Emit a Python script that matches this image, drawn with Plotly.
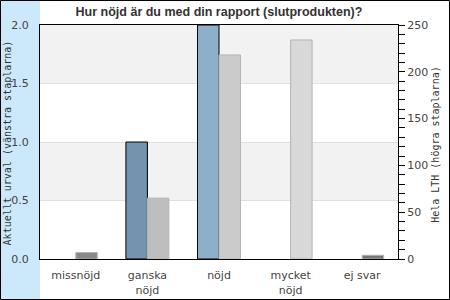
import plotly.graph_objects as go

categories = ["missnöjd", "ganska<br>nöjd", "nöjd", "mycket<br>nöjd", "ej svar"]
urval = [None, 1, 2, None, None]
lth = [7, 65, 218, 234, 4]
urval_colors = ["#5f7f9a", "#7393ae", "#8eafc9", "#a9c6de", "#5f7f9a"]
lth_colors = ["#888888", "#bebebe", "#cbcbcb", "#d8d8d8", "#777777"]
left_title = "Aktuellt urval (vänstra staplarna)"
right_title = "Hela LTH (högra staplarna)"

fig = go.Figure()
fig.add_trace(go.Bar(x=categories, y=urval, yaxis="y", width=0.3, offset=-0.3,
                     marker=dict(color=urval_colors, line=dict(color="black", width=1)),
                     showlegend=False))
fig.add_trace(go.Bar(x=categories, y=lth, yaxis="y2", width=0.3, offset=0,
                     marker=dict(color=lth_colors, line=dict(color="#b4b4b4", width=1)),
                     showlegend=False))

shapes = []
# blue strip on left
shapes.append(dict(type="rect", xref="paper", yref="paper", x0=-40/358, x1=0, y0=-41/234, y1=1+25/234,
                   fillcolor="#cce8fb", line=dict(width=0), layer="below"))
# bands
for lo, hi in [(0.5, 1.0), (1.5, 2.0)]:
    shapes.append(dict(type="rect", xref="paper", yref="y", x0=0, x1=1, y0=lo, y1=hi,
                       fillcolor="#f2f2f2", line=dict(width=0), layer="below"))
# outer border
shapes.append(dict(type="rect", xref="paper", yref="paper", x0=-39.5/358, x1=1+51.5/358,
                   y0=-40.5/234, y1=1+24.5/234, line=dict(color="black", width=1)))

tfont = dict(family="DejaVu Sans Mono", size=10, color="#333333")
annotations = [
    dict(text=left_title, xref="paper", yref="paper", x=(7-40)/358, y=0.494, textangle=-90,
         showarrow=False, xanchor="center", yanchor="middle", font=tfont),
    dict(text=right_title, xref="paper", yref="paper", x=(435.5-40)/358, y=0.49, textangle=-90,
         showarrow=False, xanchor="center", yanchor="middle", font=tfont),
]

fig.update_layout(
    width=450, height=300,
    margin=dict(l=40, r=52, t=25, b=41, autoexpand=False),
    paper_bgcolor="white", plot_bgcolor="white",
    barmode="overlay",
    shapes=shapes,
    annotations=annotations,
    title=dict(text="<b>Hur nöjd är du med din rapport (slutprodukten)?</b>",
               font=dict(family="Liberation Sans", size=12.5, color="#333333"),
               x=219/450, xanchor="center", y=1-12/300, yanchor="middle"),
    xaxis=dict(showline=True, linecolor="black", linewidth=1, mirror=True, automargin=False,
               tickfont=dict(family="DejaVu Sans", size=11, color="#444444"),
               ticks="", ticklabelstandoff=6, showgrid=False, range=[-0.5, 4.5]),
    yaxis=dict(range=[0, 2], dtick=0.5, tickformat=".1f", showline=True, linecolor="black",
               linewidth=1, showgrid=True, gridcolor="#e0e0e0", zeroline=False, automargin=False,
               ticks="", ticklabelstandoff=8,
               tickfont=dict(family="DejaVu Sans", size=11, color="#444444")),
    yaxis2=dict(range=[0, 250], dtick=50, overlaying="y", side="right", showline=True,
                linecolor="black", linewidth=1, showgrid=False, zeroline=False, automargin=False,
                ticks="outside", ticklen=6, tickcolor="black",
                minor=dict(dtick=10, ticks="outside", ticklen=6, tickcolor="black"),
                tickfont=dict(family="DejaVu Sans", size=11, color="#444444")),
)

fig.write_html("out.html")
